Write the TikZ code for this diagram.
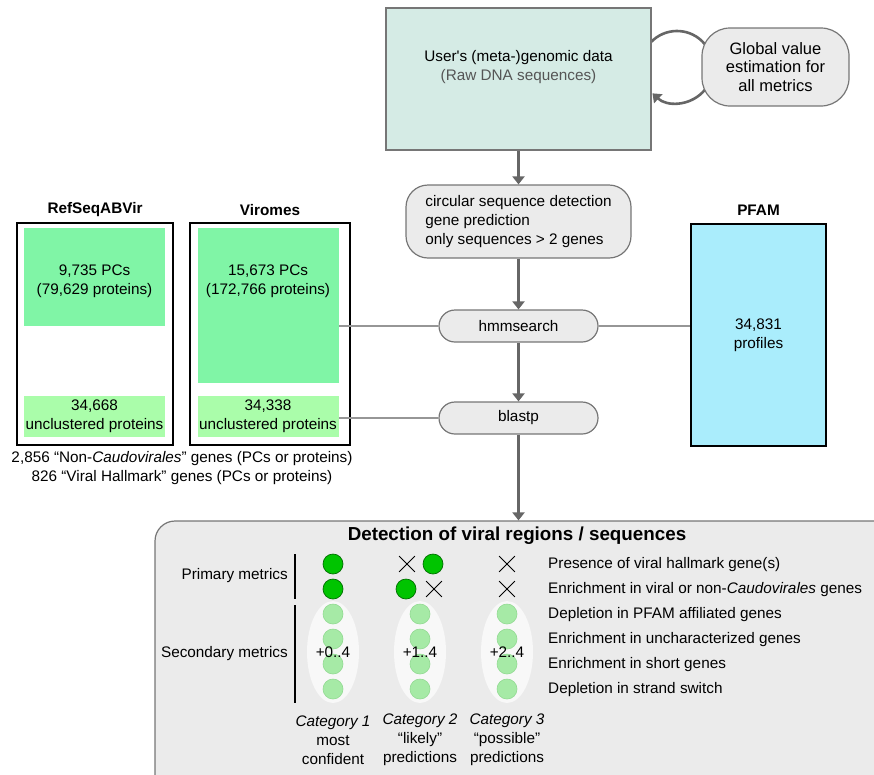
\documentclass[tikz,border=0pt]{standalone}
\usepackage{fontspec}
\setmainfont{Liberation Sans}
\usetikzlibrary{positioning,arrows.meta,calc,shapes.misc,shapes.geometric,backgrounds}
\definecolor{UserTeal}{RGB}{213,235,229}
\definecolor{BoxGrey}{RGB}{235,235,235}
\definecolor{EdgeGrey}{RGB}{118,118,118}
\definecolor{ArrowGrey}{RGB}{102,102,102}
\definecolor{LineGrey}{RGB}{150,150,150}
\definecolor{PfamCyan}{RGB}{170,237,252}
\definecolor{PCGreen}{RGB}{128,245,166}
\definecolor{ProtGreen}{RGB}{170,253,170}
\definecolor{HitGreen}{RGB}{0,196,0}
\definecolor{HitEdge}{RGB}{0,110,0}
\definecolor{SoftGreen}{RGB}{166,234,166}
\definecolor{SoftEdge}{RGB}{146,218,146}
\definecolor{OvalWhite}{RGB}{248,248,248}
\definecolor{RawGrey}{RGB}{85,85,85}

\begin{document}
\begin{tikzpicture}[
  x=1pt, y=1pt,
  every node/.style={font=\fontsize{15.3}{19}\selectfont},
  userbox/.style={draw=EdgeGrey, fill=UserTeal, line width=1.2pt, minimum width=265pt, minimum height=142pt, inner sep=0pt},
  globbox/.style={draw=EdgeGrey, fill=BoxGrey, line width=1.2pt, rounded corners=28pt, minimum width=147pt, minimum height=78pt, inner sep=0pt, align=center, font=\fontsize{16.5}{18.5}\selectfont},
  prepbox/.style={draw=EdgeGrey, fill=BoxGrey, line width=1.2pt, rounded corners=22pt, minimum width=225pt, minimum height=73pt, inner sep=0pt, align=left},
  toolbox/.style={draw=EdgeGrey, fill=BoxGrey, line width=1.2pt, rounded corners=16pt, minimum width=159pt, minimum height=32pt, inner sep=0pt},
  dbbox/.style={draw=black, line width=1.2pt, minimum height=222pt, inner sep=0pt},
  pcbox/.style={fill=PCGreen, minimum width=141pt, inner sep=0pt},
  protbox/.style={fill=ProtGreen, minimum width=141pt, minimum height=41pt, inner sep=0pt, align=center},
  pfambox/.style={draw=black, fill=PfamCyan, line width=1.2pt, minimum width=135pt, minimum height=222pt, inner sep=0pt, align=center},
  detbox/.style={draw=EdgeGrey, fill=BoxGrey, line width=1.2pt, rounded corners=20pt, minimum width=745pt, minimum height=279pt, inner sep=0pt},
  dbtitle/.style={font=\fontsize{15.3}{19}\selectfont\bfseries},
  arrowline/.style={-{Triangle[length=8pt,width=12pt]}, line width=2.6pt, ArrowGrey},
  link/.style={LineGrey, line width=2.2pt},
  hit/.style={circle, draw=HitEdge, fill=HitGreen, minimum size=20pt, inner sep=0pt, line width=0.7pt},
  soft/.style={circle, draw=SoftEdge, fill=SoftGreen, minimum size=20pt, inner sep=0pt, line width=0.6pt},
  miss/.style={cross out, draw=black, minimum size=15pt, inner sep=0pt, line width=0.8pt},
  oval/.style={ellipse, fill=OvalWhite, minimum width=52pt, minimum height=102pt, inner sep=0pt},
  metricbar/.style={line width=2.6pt, black},
  metric/.style={anchor=west, inner sep=0pt}
]
\useasboundingbox (0,0) rectangle (874,-774);

% Input data and global estimation
\node[userbox] (user) at (518.5,-79) {};
\node[align=center] (usertxt) at (518.5,-67) {User\textquotesingle s (meta-)genomic data\\\textcolor{RawGrey}{(Raw DNA sequences)}};
\node[globbox] (glob) at (775.5,-67) {Global value\\estimation for\\all metrics};
\coordinate (loopc) at (677,-67);
\begin{scope}[on background layer]
  \draw[arrowline] ($(loopc)+(136:36)$) arc[start angle=136, end angle=-133, radius=36];
\end{scope}

% Processing steps
\node[prepbox] (prep) at (518.5,-221.5) {circular sequence detection\\gene prediction\\only sequences > 2 genes};
\node[toolbox] (hmm) at (518.5,-326) {hmmsearch};
\node[toolbox] (blast) at (518.5,-418) {blastp};

% Reference databases
\node[dbtitle] (refname) at (95,-210) {RefSeqABVir};
\node[dbbox, minimum width=156pt] (refdb) at (95,-334) {};
\node[pcbox, minimum height=98pt, align=center] (refpc) at (94.5,-277) {};
\node (refpctxt) at (94.5,-281) [align=center] {9,735 PCs\\(79,629 proteins)};
\node[protbox] (refprot) at (94.5,-416.5) {34,668\\unclustered proteins};

\node[dbtitle] (virname) at (270,-210) {Viromes};
\node[dbbox, minimum width=160pt] (virdb) at (270,-334) {};
\node[pcbox, minimum height=155pt] (virpc) at (268,-305.5) {};
\node (virpctxt) at (268,-281) [align=center] {15,673 PCs\\(172,766 proteins)};
\node[protbox] (virprot) at (268,-416.5) {34,338\\unclustered proteins};

\node[align=center] (genenote) at (182,-468) {2,856 “Non-\textit{Caudovirales}” genes (PCs or proteins)\\826 “Viral Hallmark” genes (PCs or proteins)};

\node[dbtitle] (pfamname) at (758.5,-210) {PFAM};
\node[pfambox] (pfam) at (758.5,-335) {34,831\\profiles};

% Detection summary
\node[detbox] (det) at (527.5,-660.5) {};
\node[font=\fontsize{18.8}{22}\selectfont\bfseries] (dettitle) at (517,-536) {Detection of viral regions / sequences};

% Connectors
\draw[arrowline] (user.south -| prep.north) -- (prep.north);
\draw[arrowline] (prep) -- (hmm);
\draw[arrowline] (hmm) -- (blast);
\draw[arrowline] (blast) -- (blast |- det.north);
\draw[link] (hmm.west) -- (hmm.west -| virpc.east);
\draw[link] (blast.west) -- (blast.west -| virprot.east);
\draw[link] (hmm.east) -- (hmm.east -| pfam.west);

% Metrics
\node[anchor=east, inner sep=0pt] (primlab) at (288,-576) {Primary metrics};
\node[anchor=east, inner sep=0pt] (seclab) at (288,-654) {Secondary metrics};
\draw[metricbar] (295,-554) -- (295,-599);
\draw[metricbar] (295,-605) -- (295,-703);

\node[hit] (p11) at (333,-564) {};
\node[hit] (p12) at (333,-589) {};
\node[miss] (p21) at (407,-564) {};
\node[hit] (p22) at (433,-564) {};
\node[hit] (p23) at (406,-589) {};
\node[miss] (p24) at (434,-589) {};
\node[miss] (p31) at (507,-564) {};
\node[miss] (p32) at (507,-589) {};

\foreach \cx/\n/\score/\first/\second in {333/1/{+0..4}/most/confident, 420/2/{+1..4}/“likely”/predictions, 507/3/{+2..4}/“possible”/predictions}{
  \node[oval] (oval\n) at (\cx,-652) {};
  \foreach \ry in {614,639,664,689}
    \node[soft] at (\cx,-\ry) {};
  \node at (oval\n.center) {\score};
  \node[align=center, font=\fontsize{15.3}{19}\selectfont] (cat\n) at (\cx,-740) {\textit{Category \n}\\\first\\\second};
}

\node[metric] (m1) at (548,-565) {Presence of viral hallmark gene(s)};
\node[metric] (m2) at (548,-590) {Enrichment in viral or non-\textit{Caudovirales} genes};
\node[metric] (m3) at (548,-615) {Depletion in PFAM affiliated genes};
\node[metric] (m4) at (548,-640) {Enrichment in uncharacterized genes};
\node[metric] (m5) at (548,-665) {Enrichment in short genes};
\node[metric] (m6) at (548,-690) {Depletion in strand switch};
\end{tikzpicture}
\end{document}
